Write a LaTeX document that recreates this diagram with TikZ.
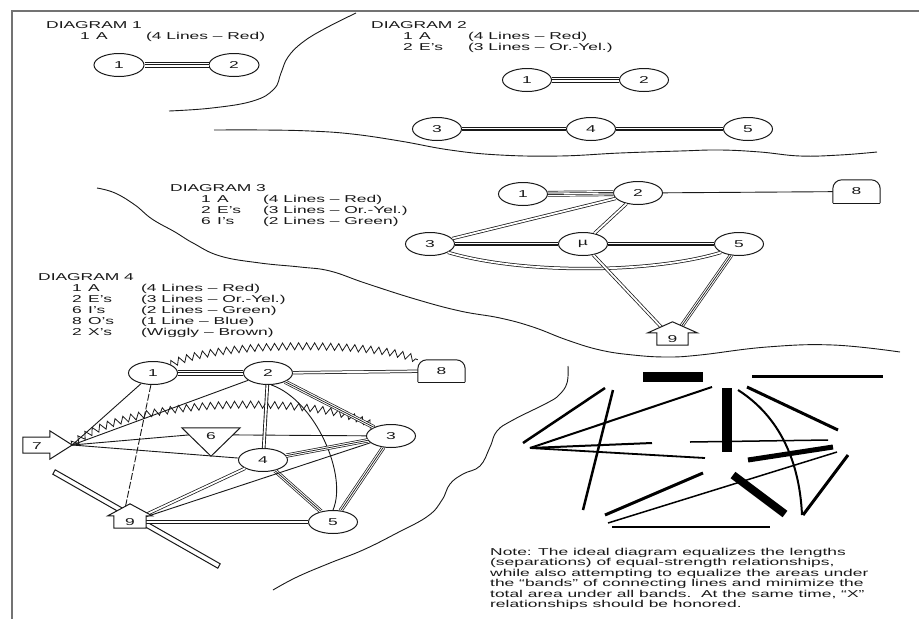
\documentclass[tikz,border=0pt]{standalone}
\usepackage{fontspec}
\setmainfont{Liberation Sans}
\usepackage{graphicx}
\usetikzlibrary{shapes.geometric,decorations.pathmorphing,calc}
\definecolor{ink}{gray}{0.1}
\newcommand\wt[1]{\scalebox{1.74}[1]{#1}}
\newcommand\lfont{\fontsize{10}{11}\selectfont}
\newcommand\legrow[8]{%
  \node[txt] (#1n) at (#2,#5) {\wt{#6}};
  \node[txt] (#1l) at (#3,#5) {\wt{#7}};
  \node[txt] (#1p) at (#4,#5) {\wt{#8}};}
\begin{document}
\begin{tikzpicture}[x=1pt,y=-1pt,
  ell/.style={ellipse, draw=ink, line width=1pt, fill=white, minimum width=49pt, minimum height=23pt, inner sep=0pt, font=\lfont, text=ink},
  anc/.style={rectangle, inner sep=0pt, draw=none},
  txt/.style={anchor=base west, inner sep=0pt, text=ink, font=\lfont},
  lab/.style={inner sep=0pt, text=ink, font=\lfont},
  bandA/.style={draw=ink, line width=0.7pt, double=white, double distance=0.8pt, preaction={draw=ink, line width=0.7pt, double=white, double distance=4.4pt}},
  bandE/.style={draw=ink, line width=0.7pt, preaction={draw=ink, line width=0.7pt, double=white, double distance=2.8pt}},
  bandI/.style={draw=ink, line width=0.75pt, double=white, double distance=1.8pt},
  lineO/.style={draw=ink, line width=0.9pt},
  wig/.style={draw=ink, line width=0.8pt, decorate, decoration={zigzag, segment length=8pt, amplitude=3.5pt}},
  dsh/.style={draw=ink, line width=0.9pt, dash pattern=on 7pt off 2pt},
  bnd/.style={draw=ink, line width=0.9pt},
  shp/.style={draw=ink, line width=1pt, fill=white, line join=miter},
  blk/.style={draw=black, line cap=butt},
]
\useasboundingbox (0,0) rectangle (919,619);
\fill[white] (0,0) rectangle (919,619);
% frame
\draw[draw=black!55, line width=1.8pt] (919,11) -- (12,11) -- (12,619);
% separating curves
\draw[bnd] plot[smooth, tension=0.7] coordinates {(356,13) (326,28) (303,42) (288,57) (281,73) (274,89) (253,101) (212,108) (169,111)};
\draw[bnd] plot[smooth, tension=0.7] coordinates {(214,130) (264,130) (310,131) (352,134) (400,141) (450,150) (500,155) (560,156) (620,153) (680,151) (720,150) (760,152) (800,156) (840,155) (877,152)};
\draw[bnd] plot[smooth, tension=0.7] coordinates {(97,188) (115,193) (135,205) (152,219) (175,232) (193,243) (220,256) (260,263) (300,267) (330,271) (365,283) (415,299) (460,311) (500,318) (533,327) (567,340) (600,350) (633,355) (667,357) (700,355) (767,347) (833,345) (900,352)};
\draw[bnd] plot[smooth, tension=0.7] coordinates {(568,366) (567,383) (559,395) (547,403) (513,420) (497,431) (490,447) (480,466) (463,474) (450,484) (442,500) (428,516) (397,533) (363,550) (330,563) (297,577) (273,590)};

% ---------- texts ----------
\node[txt] (dt1) at (46,28.1) {\wt{DIAGRAM 1}};
\legrow{aa}{80}{96}{146}{39.6}{1}{A}{(4 Lines – Red)}
\node[txt] (dt2) at (371,28.1) {\wt{DIAGRAM 2}};
\legrow{ba}{403}{419}{468}{39.6}{1}{A}{(4 Lines – Red)}
\legrow{bb}{403}{419}{468}{50.2}{2}{E's}{(3 Lines – Or.-Yel.)}
\node[txt] (dt3) at (170,191.6) {\wt{DIAGRAM 3}};
\legrow{ca}{201}{217}{263}{202.6}{1}{A}{(4 Lines – Red)}
\legrow{cb}{201}{217}{263}{213.6}{2}{E's}{(3 Lines – Or.-Yel.)}
\legrow{cc}{201}{217}{263}{224.6}{6}{I's}{(2 Lines – Green)}
\node[txt] (dt4) at (38,280.6) {\wt{DIAGRAM 4}};
\legrow{da}{72}{88}{141}{291.6}{1}{A}{(4 Lines – Red)}
\legrow{db}{72}{88}{141}{302.6}{2}{E's}{(3 Lines – Or.-Yel.)}
\legrow{dc}{72}{88}{141}{313.6}{6}{I's}{(2 Lines – Green)}
\legrow{dd}{72}{88}{141}{324.6}{8}{O's}{(1 Line – Blue)}
\legrow{de}{72}{88}{141}{335.6}{2}{X's}{(Wiggly – Brown)}

% ---------- Diagram 1 ----------
\node[ell, minimum width=50pt] (d1a) at (119,65) {\wt{1}};
\node[ell, minimum width=50pt] (d1b) at (234,65) {\wt{2}};
\draw[bandA] (d1a) -- (d1b);

% ---------- Diagram 2 ----------
\begin{scope}[every node/.append style={minimum width=48pt, minimum height=22pt}]
\node[ell] (d2a) at (527,80) {\wt{1}};
\node[ell] (d2b) at (644,80) {\wt{2}};
\node[ell] (d2c) at (437,129) {\wt{3}};
\node[ell] (d2d) at (591,129) {\wt{4}};
\node[ell] (d2e) at (748,129) {\wt{5}};
\end{scope}
\draw[bandA] (d2a) -- (d2b);
\draw[bandE] (d2c) -- (d2d);
\draw[bandE] (d2d) -- (d2e);

% ---------- Diagram 3 ----------
\begin{scope}[every node/.append style={minimum width=48pt, minimum height=23pt}]
\node[ell] (d3a) at (523,194) {\wt{1}};
\node[ell] (d3b) at (638,193) {\wt{2}};
\node[ell] (d3c) at (430,244) {\wt{3}};
\node[ell] (d3d) at (583,244) {\wt{µ}};
\node[ell] (d3e) at (739,244) {\wt{5}};
\end{scope}
\node[anc, minimum width=47pt, minimum height=23pt] (d3h) at (856.5,191.5) {};
\node[anc, minimum width=31pt, minimum height=12pt] (d3i) at (672.5,339) {};
\draw[bandA] (d3a) -- (d3b);
\draw[lineO] (d3b) -- (d3h);
\draw[bandI] (d3b) -- (d3c);
\draw[bandI] (d3b) -- (d3d);
\draw[bandE] (d3c) -- (d3d);
\draw[bandE] (d3d) -- (d3e);
\draw[bandI] (d3c.-25) .. controls (520,274) and (650,274) .. (d3e.205);
\draw[bandI] (d3d) -- (d3i);
\draw[bandE] (d3e) -- (d3i);
\path[shp, rounded corners=9pt] (d3h.south west) -- (d3h.north west) -- (d3h.north east) -- (d3h.south east);
\draw[shp] (d3h.south east) -- (d3h.south west);
\draw[shp] (d3i.south west) -- (d3i.north west) -- ++(-9,0) -- ($(d3i.north)+(0,-11)$) -- ($(d3i.north east)+(9,0)$) -- (d3i.north east) -- (d3i.south east) -- cycle;
\node[lab] (l3h) at (d3h) {\wt{8}};
\node[lab] (l3i) at (d3i) {\wt{9}};

% ---------- Diagram 4 ----------
\draw[shp] (52.8,474.2) -- (55.2,469.8) -- (220.2,563.8) -- (217.8,568.2) -- cycle;
\begin{scope}[every node/.append style={minimum width=49pt, minimum height=24pt}]
\node[ell] (d4a) at (153,373) {\wt{1}};
\node[ell] (d4b) at (268,373) {\wt{2}};
\node[ell] (d4c) at (391,436) {\wt{3}};
\node[ell] (d4d) at (263,460) {\wt{4}};
\node[ell] (d4e) at (333,522) {\wt{5}};
\end{scope}
\node[anc, minimum width=47pt, minimum height=22pt] (d4h) at (441.5,371) {};
\node[anc, minimum width=58pt, minimum height=28pt] (d4f) at (211,442) {};
\node[anc, minimum width=49pt, minimum height=28pt] (d4g) at (47.5,445) {};
\node[anc, minimum width=32pt, minimum height=12pt] (d4i) at (130,522) {};
\coordinate (n6l) at ($(d4f.north west)!0.25!(d4f.south)$);
\coordinate (n6r) at ($(d4f.north east)!0.25!(d4f.south)$);
\coordinate (n9t) at ($(d4i.north west)!0.3!(d4i.north east)$);
\draw[bandA] (d4a) -- (d4b);
\draw[bandI] (d4b) -- (d4h);
\draw[wig] (d4a.north east) .. controls (215,341) and (375,341) .. (d4h.north west);
\draw[wig] (d4g.east) .. controls (120,398) and (320,392) .. (d4c.150);
\draw[lineO] (d4g.east) -- (d4a);
\draw[lineO] (d4g.east) -- (d4b);
\draw[lineO] (d4g.east) -- (n6l);
\draw[lineO] (n6r) -- (d4c);
\draw[lineO] (d4g.east) -- (d4d);
\draw[dsh] (d4a.-100) -- (n9t);
\draw[bandI, line width=0.9pt] (d4b) -- (d4d);
\draw[bandE] (d4b) -- (d4c);
\draw[lineO] (d4b.-75) .. controls (315,400) and (348,475) .. (d4e.north);
\draw[bandE] (d4d) -- (d4c);
\draw[bandE] (d4d) -- (d4e);
\draw[bandE] (d4c) -- (d4e);
\draw[bandI] (d4i) -- (d4d);
\draw[lineO] (d4i) -- (d4c);
\draw[bandI] (d4i) -- (d4e);
\path[shp, rounded corners=9pt] (d4h.south west) -- (d4h.north west) -- (d4h.north east) -- (d4h.south east);
\draw[shp] (d4h.south east) -- (d4h.south west);
\draw[shp] (d4f.north west) -- (d4f.north east) -- (d4f.south) -- cycle;
\draw[shp] ($(d4g.west)+(0,-8)$) -- ($(d4g.west)+(27,-8)$) -- ($(d4g.north west)+(27,0)$) -- (d4g.east) -- ($(d4g.south west)+(27,0)$) -- ($(d4g.west)+(27,8)$) -- ($(d4g.west)+(0,8)$) -- cycle;
\draw[shp] (d4i.south west) -- (d4i.north west) -- ++(-6,0) -- ($(d4i.north)+(0,-12)$) -- ($(d4i.north east)+(6,0)$) -- (d4i.north east) -- (d4i.south east) -- cycle;
\node[lab] (l4h) at (d4h) {\wt{8}};
\node[lab] (l4f) at (211,436) {\wt{6}};
\node[lab] (l4g) at (37,446) {\wt{7}};
\node[lab] (l4i) at (d4i) {\wt{9}};

% ---------- bands illustration ----------
\fill[black] (643,372) rectangle (703,382);
\fill[black] (722,388) rectangle (732,452);
\draw[blk, line width=3pt] (752,376) -- (883,376);
\draw[blk, line width=2.5pt] (523,443) -- (605,388);
\draw[blk, line width=2.5pt] (613,390) -- (583,510);
\draw[blk, line width=2pt] (530,448) -- (712,387);
\draw[blk, line width=2pt] (530,448) -- (652,443);
\draw[blk, line width=1.8pt] (530,448) -- (705,458);
\draw[blk, line width=1.5pt] (690,442) -- (828,440);
\draw[blk, line width=3pt] (747,387) -- (838,430);
\draw[blk, line width=2pt] (738,390) .. controls (785,420) and (800,470) .. (802,515);
\draw[blk, line width=5pt] (748,460) -- (833,447);
\draw[blk, line width=3pt] (803,515) -- (848,455);
\draw[blk, line width=8pt] (733,475) -- (785,514);
\draw[blk, line width=3pt] (605,515) -- (703,473);
\draw[blk, line width=1.5pt] (608,523) -- (837,452);
\draw[blk, line width=2.5pt] (612,527) -- (770,527);

% ---------- note ----------
\node[txt] (nt1) at (490,555) {\wt{Note: The ideal diagram equalizes the lengths}};
\node[txt] (nt2) at (490,565.5) {\wt{(separations) of equal-strength relationships,}};
\node[txt] (nt3) at (490,576) {\wt{while also attempting to equalize the areas under}};
\node[txt] (nt4) at (490,586.5) {\wt{the “bands” of connecting lines and minimize the}};
\node[txt] (nt5) at (490,597) {\wt{total area under all bands.\ \ At the same time, “X”}};
\node[txt] (nt6) at (490,607.5) {\wt{relationships should be honored.}};
\end{tikzpicture}
\end{document}
